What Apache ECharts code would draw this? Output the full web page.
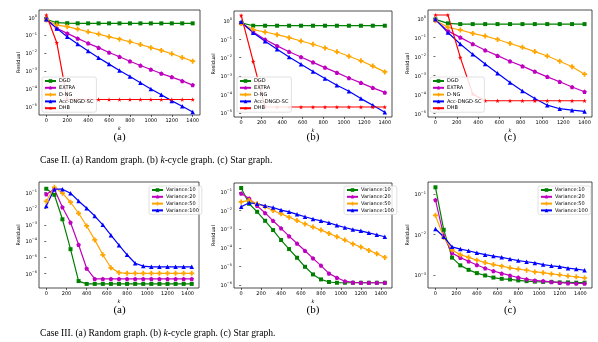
<!DOCTYPE html>
<html><head><meta charset="utf-8">
<script src="https://cdn.jsdelivr.net/npm/echarts@6/dist/echarts.min.js"></script>
<style>html,body{margin:0;padding:0;background:#fff}#c{width:598px;height:342px}</style>
</head><body><div id="c"></div><script>
// ---------- x values ----------
const kTopA = [0,100,200,300,400,500,600,700,800,900,1000,1100,1200,1300,1400];
const kTopBC = [0,117,233,350,467,583,700,817,933,1050,1167,1283,1400];
const kBot = [0,80,160,240,320,400,480,560,640,720,800,880,960,1040,1120,1200,1280,1360,1440];
// ---------- tick labels ----------
const xTickValues = [0,200,400,600,800,1000,1200,1400];
const yTicksTop = [1e-5,1e-4,1e-3,1e-2,1e-1,1];
const yTicksBotAB = [1e-6,1e-5,1e-4,1e-3,1e-2,1e-1];
const yTicksBotC = [1e-3,1e-2,1e-1];
const methods = ['DGD','EXTRA','D-NG','Acc-DNGD-SC','DHB'];
const variances = ['Variance:10','Variance:20','Variance:50','Variance:100'];
const captionTop = 'Case II. (a) Random graph. (b) {i|k}-cycle graph. (c) Star graph.';
const captionBot = 'Case III. (a) Random graph. (b) {i|k}-cycle graph. (c) Star graph.';
const subLabels = ['(a)','(b)','(c)'];

// ---------- Case II (a) random graph ----------
const a_DGD  = [0.78,0.50,0.47,0.46,0.46,0.46,0.46,0.46,0.46,0.46,0.46,0.46,0.46,0.46,0.46];
const a_EXTRA= [0.78,0.24,0.126,0.066,0.035,0.020,0.0107,0.0062,0.0035,0.0020,0.0012,7.1e-4,4.5e-4,2.75e-4,1.6e-4];
const a_DNG  = [0.71,0.37,0.30,0.22,0.155,0.115,0.081,0.060,0.043,0.030,0.020,0.014,0.0091,0.0056,0.0035];
const a_ACC  = [0.78,0.24,0.081,0.032,0.0129,0.0054,0.0024,0.00105,4.9e-4,2.2e-4,9.8e-5,4.6e-5,2.1e-5,1.05e-5,5.0e-6];
const a_DHB  = [1.35,0.038,2.5e-5,2.5e-5,2.5e-5,2.5e-5,2.5e-5,2.5e-5,2.5e-5,2.5e-5,2.5e-5,2.5e-5,2.5e-5,2.5e-5,2.5e-5];
// ---------- Case II (b) k-cycle graph ----------
const b_DGD  = [0.78,0.55,0.55,0.55,0.55,0.55,0.55,0.55,0.55,0.55,0.55,0.55,0.55];
const b_EXTRA= [0.78,0.25,0.098,0.044,0.021,0.011,0.0056,0.0029,0.00155,7.9e-4,4.3e-4,2.3e-4,1.3e-4];
const b_DNG  = [0.72,0.34,0.25,0.18,0.123,0.081,0.054,0.034,0.021,0.012,0.0068,0.0035,0.0017];
const b_ACC  = [0.89,0.23,0.078,0.029,0.011,0.0044,0.0018,7.4e-4,3.2e-4,1.5e-4,6.0e-5,2.6e-5,1.1e-5];
const b_DHB  = [2.0,0.0063,2.1e-5,2.1e-5,2.1e-5,2.1e-5,2.1e-5,2.1e-5,2.1e-5,2.1e-5,2.1e-5,2.1e-5,2.1e-5];
// ---------- Case II (c) star graph ----------
const c_DGD  = [0.89,0.55,0.50,0.50,0.50,0.50,0.50,0.50,0.50,0.50,0.50,0.50,0.50];
const c_EXTRA= [0.81,0.22,0.10,0.045,0.021,0.011,0.0056,0.0031,0.0016,8.5e-4,4.7e-4,2.5e-4,1.4e-4];
const c_DNG  = [0.76,0.34,0.245,0.162,0.117,0.078,0.048,0.030,0.018,0.0105,0.0056,0.0029,0.00117];
const c_ACC  = [0.89,0.18,0.045,0.0129,0.0040,0.0013,4.3e-4,1.55e-4,6.2e-5,2.75e-5,1.8e-5,1.5e-5,1.3e-5];
const c_DHB  = [1.5,1.5,0.0089,1.05e-4,4.7e-5,4.7e-5,4.7e-5,4.7e-5,4.7e-5,4.7e-5,4.7e-5,4.7e-5,4.7e-5];
// ---------- Case III (a) random graph ----------
const d_V10  = [0.17,0.072,0.0022,3.1e-5,3.3e-7,2.2e-7,2.2e-7,2.2e-7,2.2e-7,2.2e-7,2.2e-7,2.2e-7,2.2e-7,2.2e-7,2.2e-7,2.2e-7,2.2e-7,2.2e-7,2.2e-7];
const d_V20  = [0.079,0.16,0.0123,0.00138,5.8e-5,2.0e-6,4.5e-7,4.5e-7,4.5e-7,4.5e-7,4.5e-7,4.5e-7,4.5e-7,4.5e-7,4.5e-7,4.5e-7,4.5e-7,4.5e-7,4.5e-7];
const d_V50  = [0.028,0.21,0.091,0.025,0.0052,8.5e-4,1.17e-4,1.4e-5,2.2e-6,1.1e-6,1.0e-6,1.0e-6,1.0e-6,1.0e-6,1.0e-6,1.0e-6,1.0e-6,1.0e-6,1.0e-6];
const d_V100 = [0.0148,0.16,0.16,0.091,0.030,0.0107,0.0035,0.0010,2.3e-4,5.5e-5,1.4e-5,4.2e-6,2.8e-6,2.5e-6,2.5e-6,2.5e-6,2.5e-6,2.5e-6,2.5e-6];
// ---------- Case III (b) k-cycle graph ----------
const e_V10  = [0.162,0.023,0.0085,0.0028,8.9e-4,2.6e-4,8.5e-5,2.9e-5,9.5e-6,3.7e-6,2.0e-6,1.45e-6,1.32e-6,1.32e-6,1.32e-6,1.32e-6,1.32e-6,1.32e-6,1.32e-6];
const e_V20  = [0.081,0.044,0.0178,0.0074,0.0028,0.0011,4.2e-4,1.7e-4,6.9e-5,2.7e-5,1.1e-5,4.2e-6,2.45e-6,1.6e-6,1.38e-6,1.32e-6,1.32e-6,1.32e-6,1.32e-6];
const e_V50  = [0.029,0.035,0.023,0.0158,0.010,0.0066,0.0044,0.0029,0.0019,0.0013,8.9e-4,5.9e-4,3.9e-4,2.6e-4,1.6e-4,1.1e-4,7.2e-5,4.8e-5,3.0e-5];
const e_V100 = [0.0158,0.026,0.023,0.0178,0.0145,0.0105,0.0085,0.0062,0.0046,0.0035,0.0028,0.0022,0.0016,0.00123,9.5e-4,8.1e-4,6.3e-4,5.0e-4,3.9e-4];
// ---------- Case III (c) star graph ----------
const f_V10  = [0.148,0.0132,0.0027,0.00174,0.00135,0.00112,9.8e-4,8.7e-4,8.1e-4,7.8e-4,7.4e-4,7.1e-4,6.9e-4,6.8e-4,6.8e-4,6.6e-4,6.6e-4,6.5e-4,6.5e-4];
const f_V20  = [0.072,0.0093,0.0035,0.0027,0.0022,0.00178,0.00148,0.00126,0.0011,9.8e-4,8.7e-4,7.9e-4,7.4e-4,7.1e-4,6.8e-4,6.5e-4,6.3e-4,6.2e-4,6.2e-4];
const f_V50  = [0.030,0.0085,0.0042,0.0032,0.00275,0.00234,0.00204,0.00182,0.00166,0.00151,0.00141,0.00132,0.0012,0.00115,0.00107,0.00102,9.5e-4,9.1e-4,8.5e-4];
const f_V100 = [0.0138,0.0089,0.0050,0.0044,0.0040,0.00355,0.0032,0.00295,0.00275,0.0025,0.00229,0.00214,0.0020,0.00182,0.0017,0.00162,0.00148,0.00141,0.00132];

// ---------- styling ----------
const GREEN='#008000', MAG='#bf00bf', ORANGE='#ffa500', BLUE='#0000ff', RED='#ff0000';
const SYM_PENT='path://M0,-10L9.51,-3.09L5.88,8.09L-5.88,8.09L-9.51,-3.09Z';
const SYM_PLUS='path://M-3.5,-10H3.5V-3.5H10V3.5H3.5V10H-3.5V3.5H-10V-3.5H-3.5Z';
const SYM_STAR='path://M0,-10L2.35,-3.24L9.51,-3.09L3.8,1.24L5.88,8.09L0,4L-5.88,8.09L-3.8,1.24L-9.51,-3.09L-2.35,-3.24Z';
const methodStyle = [[GREEN,'rect',4],[MAG,SYM_PENT,4.5],[ORANGE,SYM_PLUS,5],[BLUE,'triangle',4.5],[RED,SYM_STAR,4.5]];
const varStyle = [[GREEN,'rect',4],[MAG,SYM_PENT,4.5],[ORANGE,SYM_PLUS,5],[BLUE,'triangle',4.5]];

const FONT='DejaVu Sans';
const grids = [
  {left:39, top:10, width:161, height:105},
  {left:234, top:11, width:158, height:106},
  {left:428, top:10, width:164, height:107},
  {left:39, top:182, width:160, height:106},
  {left:234, top:183, width:158, height:105},
  {left:428, top:182, width:164, height:106}
];
const xRanges = [[-70,1470],[-70,1470],[-70,1470],[-72,1512],[-72,1512],[-72,1512]];
const yRanges = [[3.4e-6,2.57],[6.0e-6,3.47],[6.6e-6,2.75],[1.23e-7,0.447],[6.9e-7,0.30],[4.8e-4,0.20]];
const yTickSets = [yTicksTop,yTicksTop,yTicksTop,yTicksBotAB,yTicksBotAB,yTicksBotC];

function logLabel(v){
  const e = Math.round(Math.log10(v));
  return '{b|10}{e|' + (e<0 ? '\u2212'+(-e) : String(e)) + '}';
}

const xAxes = grids.map((g,i)=>({
  type:'value', gridIndex:i, min:xRanges[i][0], max:xRanges[i][1],
  name:'k', nameLocation:'middle', nameGap:11,
  nameTextStyle:{fontSize:5, fontStyle:'italic', fontFamily:FONT, color:'#000'},
  axisLine:{show:false}, splitLine:{show:false},
  axisTick:{show:true, inside:false, length:2, customValues:xTickValues, lineStyle:{color:'#000', width:0.6}},
  axisLabel:{customValues:xTickValues, formatter:v=>String(v), fontSize:5, margin:3, color:'#000', fontFamily:FONT}
}));
const yAxes = grids.map((g,i)=>({
  type:'log', logBase:10, gridIndex:i, min:yRanges[i][0], max:yRanges[i][1],
  name:'Residual', nameLocation:'middle', nameGap:16,
  nameTextStyle:{fontSize:5, fontFamily:FONT, color:'#000'},
  axisLine:{show:false}, splitLine:{show:false},
  axisTick:{show:true, inside:false, length:2, customValues:yTickSets[i], lineStyle:{color:'#000', width:0.6}},
  axisLabel:{customValues:yTickSets[i], formatter:logLabel, margin:2, color:'#000',
    rich:{b:{fontSize:5, fontFamily:FONT, color:'#000', verticalAlign:'bottom', lineHeight:7},
          e:{fontSize:3.5, fontFamily:FONT, color:'#000', verticalAlign:'top', lineHeight:7}}}
}));

const series = [];
function addSeries(gi, name, xs, ys, st){
  series.push({
    type:'line', name, xAxisIndex:gi, yAxisIndex:gi,
    data: xs.map((x,j)=>[x, ys[j]]),
    symbol: st[1], symbolSize: st[2], showSymbol:true,
    lineStyle:{color:st[0], width:1.2}, itemStyle:{color:st[0]},
    animation:false, emphasis:{disabled:true}
  });
}
[[a_DGD,a_EXTRA,a_DNG,a_ACC,a_DHB],[b_DGD,b_EXTRA,b_DNG,b_ACC,b_DHB],[c_DGD,c_EXTRA,c_DNG,c_ACC,c_DHB]]
  .forEach((set,gi)=>{ const xs = gi===0?kTopA:kTopBC; set.forEach((ys,m)=>addSeries(gi, methods[m], xs, ys, methodStyle[m])); });
[[d_V10,d_V20,d_V50,d_V100],[e_V10,e_V20,e_V50,e_V100],[f_V10,f_V20,f_V50,f_V100]]
  .forEach((set,j)=>{ set.forEach((ys,m)=>addSeries(3+j, variances[m], kBot, ys, varStyle[m])); });

function mkLegend(left, top, names){
  return {orient:'vertical', left, top, data:names, selectedMode:false,
    itemWidth:11, itemHeight:4.5, itemGap:1.8, padding:[1.5,3,1.5,2],
    textStyle:{fontSize:5, fontFamily:FONT, color:'#000', padding:[0,0,0,-2]},
    backgroundColor:'rgba(255,255,255,0.85)', borderColor:'#cccccc', borderWidth:0.6, borderRadius:2};
}
const legends = [
  mkLegend(42,77,methods), mkLegend(237,77,methods), mkLegend(430,77,methods),
  mkLegend(149,186,variances), mkLegend(344,186,variances), mkLegend(538,186,variances)
];

const SERIF='"Liberation Serif", "Times New Roman", serif';
const graphic = [];
[119.5,313,510].forEach((x,i)=>{
  graphic.push({type:'text', x, y:137, style:{text:subLabels[i], font:'11px '+SERIF, fill:'#000', textAlign:'center', textVerticalAlign:'middle'}});
  graphic.push({type:'text', x, y:310, style:{text:subLabels[i], font:'11px '+SERIF, fill:'#000', textAlign:'center', textVerticalAlign:'middle'}});
});
graphic.push({type:'text', x:40, y:160, style:{text:captionTop, font:'9.6px '+SERIF, fill:'#000', textVerticalAlign:'middle', rich:{i:{fontStyle:'italic', fontSize:9.6, fontFamily:'Liberation Serif'}}}});
graphic.push({type:'text', x:40, y:333, style:{text:captionBot, font:'9.6px '+SERIF, fill:'#000', textVerticalAlign:'middle', rich:{i:{fontStyle:'italic', fontSize:9.6, fontFamily:'Liberation Serif'}}}});

const chart = echarts.init(document.getElementById('c'), null, {renderer:'canvas'});
chart.setOption({
  animation:false,
  grid: grids.map(g=>Object.assign({show:true, borderColor:'#222', borderWidth:0.8, backgroundColor:'transparent'}, g)),
  xAxis: xAxes, yAxis: yAxes, legend: legends, series, graphic
});
</script></body></html>
